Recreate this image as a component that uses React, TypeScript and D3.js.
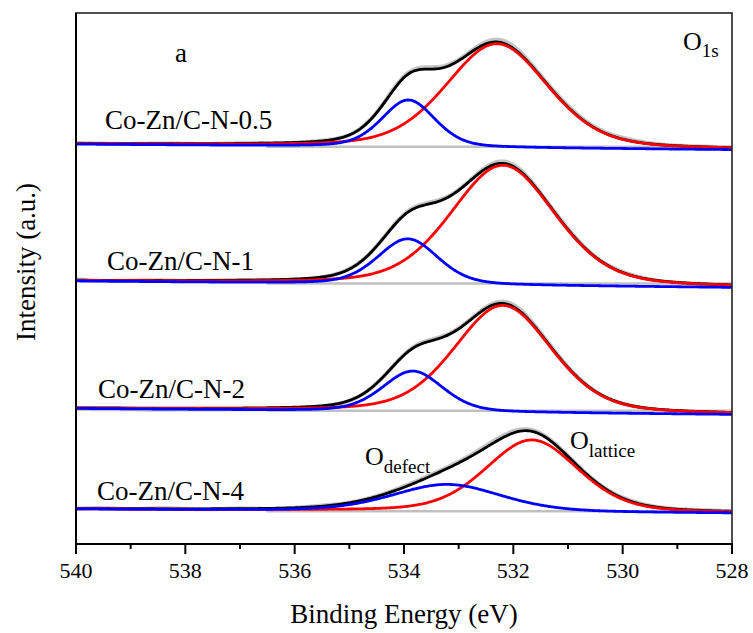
import React from "react";
import * as d3 from "d3";

// ---- data ----
const energyTicks = [540, 538, 536, 534, 532, 530, 528];
const minorTicks = [539, 537, 535, 533, 531, 529];
const sampleNames = ["Co-Zn/C-N-0.5", "Co-Zn/C-N-1", "Co-Zn/C-N-2", "Co-Zn/C-N-4"];
// vertical stacking offset of each spectrum (a.u.)
const stackOffsets = [397.3, 260.5, 133.3, 32.7];
// fitted linear background relative to offset, at 540 eV and 528 eV
const bgAt540 = [2.5, 2.4, 2.2, 2.2];
const bgAt528 = [-3.0, -4.0, -3.8, -1.9];
// O defect component
const defectCenter = [533.92, 533.93, 533.84, 533.21];
const defectHeight = [47, 45.5, 40.5, 27];
const defectFwhm = [1.15, 1.3, 1.3, 2.35];
// O lattice component
const latticeCenter = [532.3, 532.19, 532.19, 531.66];
const latticeHeight = [104, 120, 107, 72];
const latticeFwhm = [2.2, 2.25, 2.1, 2.0];
const lorentzFraction = 0.3;
// raw data: deviation of measured points from the envelope, 540 -> 528 eV every 0.5 eV
const rawResidual1 = [0.5, 0, -0.5, 0.5, 0, -0.5, 0.5, 0, -0.5, 0.5, 0, 0.5, 1, 2.5, 0.5, 2, 3, 0.5, 2, 0.5, 2, 0.5, 0, 0.5, 0];
const rawResidual2 = [1, -1, 0, 0.5, -0.5, 0, 0.5, -0.5, -1, 0, 0.5, 0, 0.5, 2, 0, 1.5, 2.5, 0, 1.5, 0, 1, 0, -0.5, 0, 0];
const rawResidual3 = [-1, -1.5, -1, -2, -1, -1.5, -1, -1.5, -1, -0.5, 0, 0, 0.5, 1.5, 0.5, 1, 2.5, 1, 1, 0, 0, -0.5, -1, -1.5, 0];
const rawResidual4 = [0, 1, -1, 1, 0, -1, 1, -1, 0, 1, 0, 0.5, 1, 1.5, 1, 2, 2, 1, 0.5, 0, 1, 0.5, 0, 0.5, 0];
const rawResiduals = [rawResidual1, rawResidual2, rawResidual3, rawResidual4];
const backgroundStart = 536.5;

const FONT = "Liberation Serif";

function pseudoVoigt(E: number, c: number, h: number, w: number, eta: number) {
  const t = ((E - c) * (E - c)) / (w * w);
  return h * ((1 - eta) * Math.exp(-4 * Math.LN2 * t) + eta / (1 + 4 * t));
}

export default function App() {
  const x = d3.scaleLinear().domain([540, 528]).range([76, 732]);
  const y = d3.scaleLinear().domain([0, 531]).range([544, 13]);
  const energies = d3.range(528, 540.0001, 0.02);
  const line = d3
    .line<[number, number]>()
    .x((d) => x(d[0]))
    .y((d) => y(d[1]));

  const panels = sampleNames.map((name, i) => {
    const bg = (E: number) =>
      stackOffsets[i] + bgAt540[i] + ((bgAt528[i] - bgAt540[i]) * (540 - E)) / 12;
    const defect = (E: number) =>
      pseudoVoigt(E, defectCenter[i], defectHeight[i], defectFwhm[i], lorentzFraction);
    const lattice = (E: number) =>
      pseudoVoigt(E, latticeCenter[i], latticeHeight[i], latticeFwhm[i], lorentzFraction);
    const resid = d3.interpolateBasis(rawResiduals[i]);
    const blue = energies.map((E) => [E, bg(E) + defect(E)] as [number, number]);
    const red = energies.map((E) => [E, bg(E) + lattice(E)] as [number, number]);
    const black = energies.map((E) => [E, bg(E) + defect(E) + lattice(E)] as [number, number]);
    const raw = energies.map(
      (E) => [E, bg(E) + defect(E) + lattice(E) + resid((540 - E) / 12)] as [number, number]
    );
    return { name, blue, red, black, raw, offset: stackOffsets[i] };
  });

  const labelPos = [
    { x: 105, y: 129 },
    { x: 107, y: 270 },
    { x: 98, y: 398 },
    { x: 97, y: 500 },
  ];

  const textStyle = { fontFamily: FONT };

  return (
    <svg
      width={753}
      height={633}
      style={{ position: "absolute", left: 0, top: 0, display: "block", background: "#fff" }}
    >
      <defs>
        <clipPath id="plotclip">
          <rect x={76} y={13} width={656} height={531} />
        </clipPath>
      </defs>
      <rect x={0} y={0} width={753} height={633} fill="#fff" />
      <g clipPath="url(#plotclip)" fill="none" strokeLinejoin="round" strokeLinecap="round">
        {panels.map((p, i) => (
          <g key={i}>
            <line
              x1={x(backgroundStart)}
              x2={x(528)}
              y1={y(p.offset)}
              y2={y(p.offset)}
              stroke="#c0c0c0"
              strokeWidth={2.5}
            />
            <path d={line(p.raw) || ""} stroke="#c4c4c4" strokeWidth={4} />
            <path d={line(p.black) || ""} stroke="#000" strokeWidth={2.8} />
            <path d={line(p.red) || ""} stroke="#ff0000" strokeWidth={2.8} />
            <path d={line(p.blue) || ""} stroke="#0000ff" strokeWidth={2.8} />
          </g>
        ))}
      </g>
      {/* frame */}
      <rect x={76} y={13} width={656} height={531} fill="none" stroke="#222" strokeWidth={1.6} />
      <line x1={76} x2={76} y1={13} y2={545} stroke="#000" strokeWidth={2} />
      <line x1={75} x2={733} y1={544} y2={544} stroke="#000" strokeWidth={2} />
      {/* ticks */}
      {energyTicks.map((t) => (
        <g key={"M" + t}>
          <line x1={x(t)} x2={x(t)} y1={544} y2={554} stroke="#000" strokeWidth={2} />
          <text x={x(t)} y={578} textAnchor="middle" style={textStyle} fontSize={22} fill="#000">
            {t}
          </text>
        </g>
      ))}
      {minorTicks.map((t) => (
        <line key={"m" + t} x1={x(t)} x2={x(t)} y1={544} y2={549} stroke="#000" strokeWidth={2} />
      ))}
      {/* axis titles */}
      <text x={404} y={623} textAnchor="middle" style={textStyle} fontSize={27} fill="#000">
        Binding Energy (eV)
      </text>
      <text
        transform="translate(35,262) rotate(-90)"
        textAnchor="middle"
        style={textStyle}
        fontSize={27}
        fill="#000"
      >
        Intensity (a.u.)
      </text>
      {/* sample labels */}
      {panels.map((p, i) => (
        <text key={"l" + i} x={labelPos[i].x} y={labelPos[i].y} style={textStyle} fontSize={27} fill="#000">
          {p.name}
        </text>
      ))}
      <text x={175} y={62} style={textStyle} fontSize={27} fill="#000">
        a
      </text>
      <text x={683} y={50} style={textStyle} fontSize={26} fill="#000">
        O
        <tspan fontSize={19} dy={7}>
          1s
        </tspan>
      </text>
      <text x={365} y={465} style={textStyle} fontSize={26} fill="#000">
        O
        <tspan fontSize={19} dy={8}>
          defect
        </tspan>
      </text>
      <text x={570} y={449} style={textStyle} fontSize={26} fill="#000">
        O
        <tspan fontSize={19} dy={8}>
          lattice
        </tspan>
      </text>
    </svg>
  );
}
